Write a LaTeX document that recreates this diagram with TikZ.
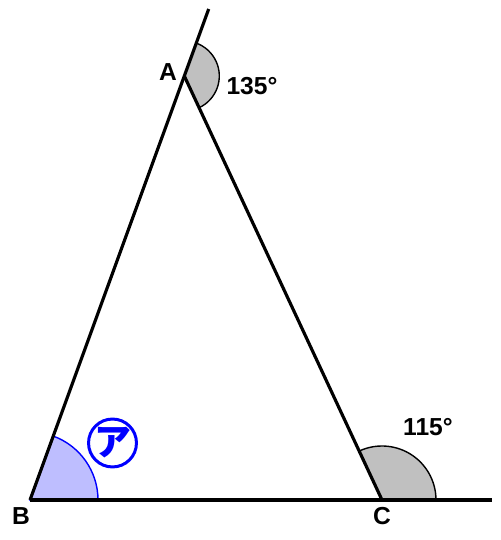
\documentclass[tikz,border=0pt]{standalone}
\usepackage{fontspec}
\setmainfont{Liberation Sans}
\newfontfamily\jpfont{Noto Sans CJK JP}
\definecolor{sectorgray}{RGB}{192,192,192}
\definecolor{sectorblue}{RGB}{190,190,255}
\tikzset{
  side/.style={line width=1.8pt, black},
  vlabel/.style={font=\fontsize{14}{16}\selectfont\bfseries, inner sep=0pt},
  anglelabel/.style={font=\fontsize{14}{16}\selectfont\bfseries, inner sep=0pt},
}
\begin{document}
\begin{tikzpicture}[x=0.02cm, y=0.02cm]
        \useasboundingbox (0,0) rectangle (500,540);
        \coordinate (B) at (30,40);
        \coordinate (C) at (382,40);
        \coordinate (A) at (184.3,464);
        \coordinate (Atop) at (208.7,531);
        \coordinate (Cend) at (492,40);

        % angle sectors
        \filldraw[fill=sectorgray, draw=black, line width=0.8pt]
        (A) -- ++(-65:35) arc[start angle=-65, end angle=70, radius=35] -- cycle;
        \filldraw[fill=sectorgray, draw=black, line width=0.8pt]
        (C) -- ++(0:54) arc[start angle=0, end angle=115, radius=54] -- cycle;
        \filldraw[fill=sectorblue, draw=blue, line width=0.8pt]
        (B) -- ++(0:68) arc[start angle=0, end angle=70, radius=68] -- cycle;

        % sides
        \draw[side] (B) -- (Atop);
        \draw[side] (B) -- (Cend);
        \draw[side] (A) -- (C);

        \node[vlabel] at (168,468)(lA){A};
        \node[vlabel] at (21,24)(lB){B};
        \node[vlabel] at (382,24)(lC){C};
        \node[anglelabel] at (252,454)(a135){135°};
        \node[anglelabel] at (428,113)(a115){115°};
        \node[circle, draw=blue, line width=1.7pt, text=blue, minimum size=0.92cm, inner sep=0pt,
              font=\jpfont\fontsize{21}{21}\selectfont\bfseries] at (112.5,97)(ka){ア};
    \end{tikzpicture}
\end{document}
